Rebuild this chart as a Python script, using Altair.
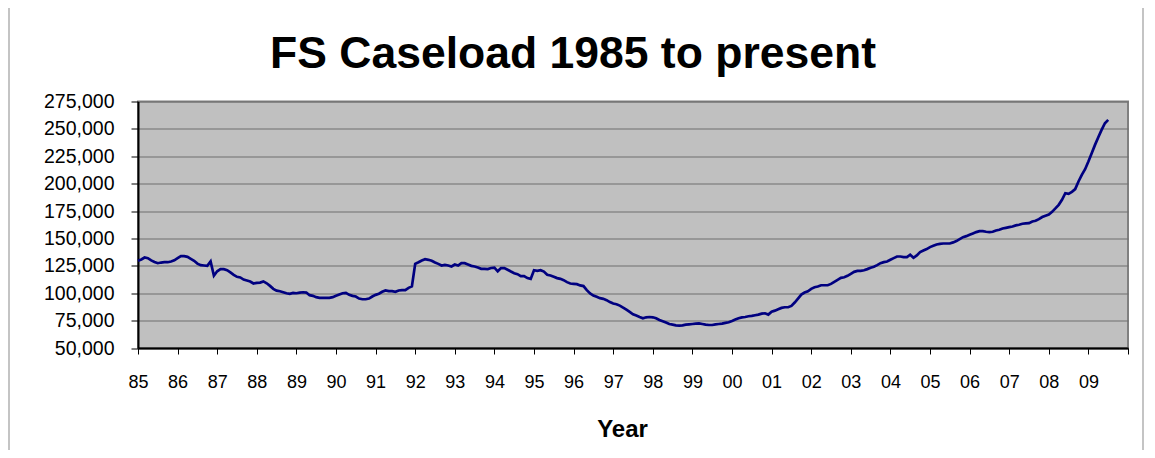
import altair as alt
import pandas as pd

# Monthly food stamp caseload, Jan 1985 onward
cases_1985 = [129600, 130800, 132600, 132000, 130000, 128600, 127400, 128000, 128300, 128300, 129000, 130000]
cases_1986 = [132000, 133800, 133800, 133200, 131400, 129600, 127000, 125600, 125300, 125000, 129000, 116000]
cases_1987 = [120000, 122000, 122000, 121000, 119000, 116800, 115000, 114400, 112500, 111600, 110700, 108900]
cases_1988 = [109500, 109700, 110800, 109100, 106700, 104000, 102400, 101800, 100900, 100000, 99400, 100300]
cases_1989 = [100000, 100600, 100900, 100600, 98200, 97600, 96400, 95700, 95700, 95700, 95700, 96400]
cases_1990 = [97600, 98800, 100000, 100300, 98500, 97600, 97000, 95100, 94500, 94500, 95100, 97000]
cases_1991 = [98500, 99500, 101300, 102500, 101900, 101900, 101300, 102500, 102800, 102800, 104900, 106200]
cases_1992 = [126800, 128300, 129900, 131100, 130500, 129600, 128000, 126800, 125300, 125900, 125300, 124400]
cases_1993 = [126200, 125300, 127400, 127400, 126200, 125000, 124400, 123500, 122300, 122300, 122000, 123000]
cases_1994 = [123300, 120000, 123000, 122900, 121400, 119800, 118300, 117400, 115600, 115600, 113800, 113100]
cases_1995 = [121000, 120400, 121000, 119800, 116800, 116200, 115000, 113800, 113100, 111900, 110100, 108900]
cases_1996 = [108600, 108300, 107100, 106500, 102800, 99800, 97900, 96700, 95500, 94900, 93700, 91900]
cases_1997 = [90600, 90000, 88700, 86900, 85000, 82900, 80800, 79600, 78300, 77100, 78000, 78300]
cases_1998 = [78000, 77100, 75600, 74400, 73200, 71900, 71300, 70700, 70400, 70700, 71300, 71600]
cases_1999 = [71900, 72200, 72500, 71900, 71300, 71000, 71000, 71600, 71900, 72200, 72900, 73500]
cases_2000 = [74700, 76000, 77200, 78000, 78300, 79000, 79300, 79900, 80500, 81400, 81700, 80500]
cases_2001 = [83200, 84100, 85400, 86600, 87200, 87200, 88400, 91500, 95100, 98800, 100600, 101800]
cases_2002 = [104000, 105500, 106100, 107300, 107300, 107300, 108500, 110400, 112200, 114000, 114600, 115900]
cases_2003 = [117700, 119500, 120400, 120400, 121000, 122000, 123200, 124100, 125600, 127400, 128400, 129000]
cases_2004 = [130500, 132000, 133500, 133500, 132900, 132900, 135100, 132300, 134500, 137500, 139000, 140300]
cases_2005 = [142100, 143300, 144500, 145100, 145400, 145400, 145400, 146400, 147600, 149400, 151200, 152100]
cases_2006 = [153400, 154600, 155800, 156700, 156700, 156100, 155800, 156100, 157300, 157900, 159100, 159700]
cases_2007 = [160300, 160900, 161900, 162500, 163400, 163700, 164000, 165500, 166100, 167600, 169500, 170700]
cases_2008 = [171900, 174300, 177400, 180700, 185300, 191300, 190700, 192600, 195000, 202000, 208100, 213200]
cases_2009 = [220200, 227800, 235400, 242400, 249100, 255200, 258200]

year_labels = ["85", "86", "87", "88", "89", "90", "91", "92", "93", "94", "95", "96",
               "97", "98", "99", "00", "01", "02", "03", "04", "05", "06", "07", "08", "09", ""]
y_ticks = [50000, 75000, 100000, 125000, 150000, 175000, 200000, 225000, 250000, 275000]
title_text = ["FS Caseload 1985 to present"]

all_years = [cases_1985, cases_1986, cases_1987, cases_1988, cases_1989, cases_1990,
             cases_1991, cases_1992, cases_1993, cases_1994, cases_1995, cases_1996,
             cases_1997, cases_1998, cases_1999, cases_2000, cases_2001, cases_2002,
             cases_2003, cases_2004, cases_2005, cases_2006, cases_2007, cases_2008, cases_2009]
values = [v for yr in all_years for v in yr]
df = pd.DataFrame({"month": list(range(len(values))), "caseload": values})

FONT = "Liberation Sans"
label_js = "[" + ",".join("'" + s + "'" for s in year_labels) + "]"

line = alt.Chart(df).mark_line(color="#000080", strokeWidth=2.7).encode(
    x=alt.X("month:Q",
            scale=alt.Scale(domain=[0, 12 * (len(year_labels) - 1)], nice=False, zero=False),
            axis=alt.Axis(values=list(range(0, 12 * len(year_labels), 12)),
                          labelExpr=label_js + "[round(datum.value/12)]",
                          grid=False, tickSize=6, tickColor="black", tickWidth=1,
                          domainColor="black", domainWidth=2,
                          labelFont=FONT, labelFontSize=18, labelColor="black",
                          labelPadding=19, labelAngle=0, labelFlush=False,
                          labelOverlap=False,
                          title="Year", titleFont=FONT, titleFontSize=24,
                          titleFontWeight="bold", titleColor="black",
                          titleX=484, titleY=88, titleBaseline="alphabetic",
                          titleAnchor="start", titleAlign="center")),
    y=alt.Y("caseload:Q",
            scale=alt.Scale(domain=[50000, 275000], nice=False, zero=False),
            axis=alt.Axis(values=y_ticks, format=",d",
                          grid=True, gridColor="#6e6e6e", gridWidth=1,
                          tickSize=7, tickColor="black",
                          domainColor="black", domainWidth=2,
                          labelFont=FONT, labelFontSize=19.5, labelColor="black",
                          labelPadding=17, labelFlush=False, title=None)),
)

title = alt.Chart(pd.DataFrame({"t": title_text})).mark_text(
    font=FONT, fontSize=44.5, fontWeight="bold", color="black",
    align="center", baseline="alphabetic"
).encode(text="t:N", x=alt.value(435), y=alt.value(-34))

border = alt.Chart(pd.DataFrame({"side": ["left", "right"], "px": [-129, 1005]})).mark_rule(
    color="#b0b0b0", strokeWidth=1.5
).encode(
    x=alt.X("px:Q", scale=None),
    y=alt.value(-110),
    y2=alt.value(352),
)

chart = alt.layer(border, line, title).properties(
    width=990,
    height=246.5,
    padding={"left": 130, "top": 93.5, "right": 17, "bottom": 102},
    autosize=alt.AutoSizeParams(type="none"),
    background="white",
).configure_view(
    fill="#C0C0C0", stroke="#808080", strokeWidth=2
)

chart.save("out.html", embed_options={"renderer": "svg", "actions": False})
